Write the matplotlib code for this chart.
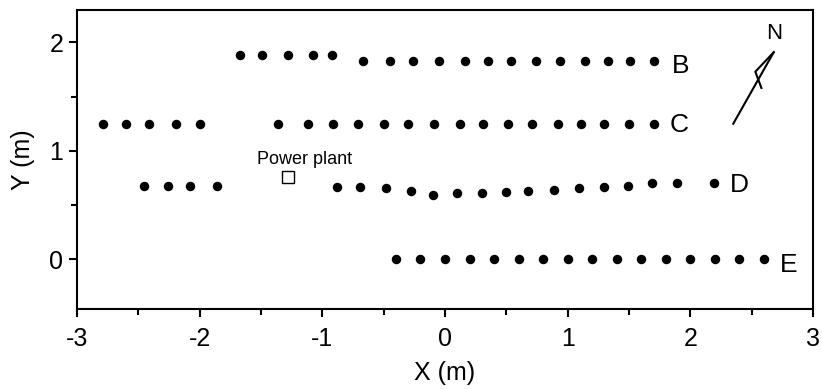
from matplotlib import pyplot as plt
from matplotlib.ticker import MultipleLocator

plt.rcParams["font.family"] = ["Liberation Sans", "DejaVu Sans"]
plt.rcParams["axes.unicode_minus"] = False

# rows of the layout (m)
b_x = [-1.67, -1.49, -1.28, -1.08, -0.92,
       -0.67, -0.45, -0.26, -0.05, 0.16, 0.35, 0.54, 0.74, 0.94, 1.14, 1.33, 1.51, 1.70]
b_y = [1.88] * 5 + [1.83] * 13

c_x = [-2.79, -2.60, -2.41, -2.19, -2.00,
       -1.36, -1.12, -0.91, -0.71, -0.50, -0.30, -0.09, 0.12, 0.31, 0.51, 0.71,
       0.92, 1.11, 1.30, 1.50, 1.70]
c_y = [1.25] * 21

d_x = [-2.45, -2.26, -2.08, -1.86,
       -0.88, -0.69, -0.48, -0.28, -0.10, 0.10, 0.30, 0.50, 0.68, 0.89, 1.09,
       1.30, 1.49, 1.69, 1.89, 2.19]
d_y = [0.676, 0.676, 0.676, 0.676,
       0.664, 0.664, 0.654, 0.629, 0.593, 0.608, 0.608, 0.620, 0.627, 0.639,
       0.654, 0.669, 0.678, 0.706, 0.706, 0.706]

e_x = [-0.4, -0.2, 0.0, 0.2, 0.4, 0.6, 0.8, 1.0, 1.2, 1.4, 1.6, 1.8, 2.0,
       2.2, 2.4, 2.6]
e_y = [0.0] * 16

row_names = ["B", "C", "D", "E"]
row_label_x = [1.92, 1.91, 2.40, 2.80]
row_label_y = [1.78, 1.24, 0.68, -0.05]

plant_x, plant_y = -1.28, 0.76
plant_label = "Power plant"

# north arrow
arrow_shaft_x = [2.35, 2.68]
arrow_shaft_y = [1.25, 1.91]
arrow_barb_x = [2.68, 2.53, 2.58]
arrow_barb_y = [1.91, 1.73, 1.58]


def main():
    fig = plt.figure(figsize=(8.22, 3.9), dpi=100)
    ax = fig.add_axes([0.0937, 0.2077, 0.8953, 0.7667])

    for xs, ys in [(b_x, b_y), (c_x, c_y), (d_x, d_y), (e_x, e_y)]:
        ax.plot(xs, ys, "o", color="black", ms=5.8, mec="black")

    for name, lx, ly in zip(row_names, row_label_x, row_label_y):
        ax.text(lx, ly, name, fontsize=19, ha="center", va="center")

    ax.plot([plant_x], [plant_y], "s", ms=8.5, mfc="white", mec="black", mew=1.0)
    ax.text(-1.53, 0.92, plant_label, fontsize=13, ha="left", va="center")

    ax.plot(arrow_shaft_x, arrow_shaft_y, color="black", lw=1.5)
    ax.plot(arrow_barb_x, arrow_barb_y, color="black", lw=1.5)
    ax.text(2.68, 2.08, "N", fontsize=16, ha="center", va="center")

    ax.set_xlim(-3, 3)
    ax.set_ylim(-0.46, 2.3)
    ax.xaxis.set_major_locator(MultipleLocator(1))
    ax.xaxis.set_minor_locator(MultipleLocator(0.5))
    ax.yaxis.set_major_locator(MultipleLocator(1))
    ax.yaxis.set_minor_locator(MultipleLocator(0.5))
    ax.tick_params(which="major", direction="out", length=6, width=1.5,
                   labelsize=18, pad=4)
    ax.tick_params(axis="x", which="major", pad=7)
    ax.tick_params(which="minor", direction="out", length=4.5, width=1.5)
    for sp in ax.spines.values():
        sp.set_linewidth(1.5)

    ax.set_xlabel("X (m)", fontsize=18, labelpad=7)
    ax.set_ylabel("Y (m)", fontsize=18, labelpad=10)

    fig.savefig("out.png", dpi=100)


if __name__ == "__main__":
    main()
